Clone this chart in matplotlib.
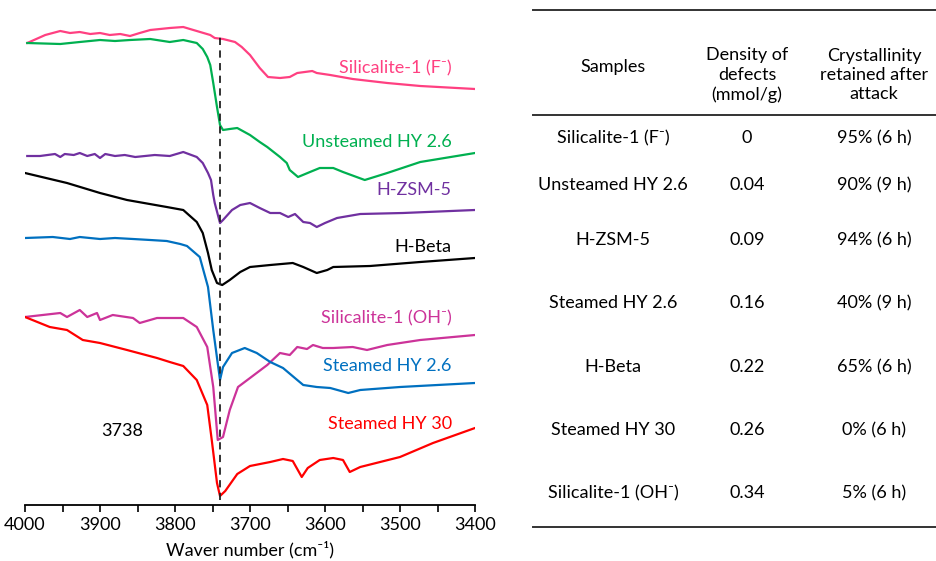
import matplotlib
matplotlib.use('Agg')
import matplotlib.pyplot as plt
import numpy as np

# フォント設定
plt.rcParams['font.family'] = ['Lato', 'DejaVu Sans']
FS = 13

# スペクトル（波数 cm-1, 相対強度 a.u. オフセット込み）
wn_f = [3997, 3973, 3953, 3940, 3927, 3913, 3900, 3887, 3873, 3860, 3847, 3833, 3820, 3807,
        3789, 3771, 3753, 3747, 3736, 3720, 3711, 3700, 3687, 3676, 3660, 3647, 3637, 3617,
        3611, 3593, 3563, 3517, 3473, 3400]
sil_f = [462, 470, 474, 472, 473, 471, 472, 470, 471, 469, 472, 475, 476, 477,
         478, 474, 470, 467, 466, 463, 458, 450, 437, 428, 427, 428, 432, 434,
         432, 430, 426, 422, 419, 416]

wn_uhy = [3997, 3953, 3927, 3900, 3880, 3860, 3833, 3807, 3789, 3771, 3763, 3757, 3753,
          3749, 3744, 3740, 3736, 3727, 3717, 3700, 3687, 3677, 3660, 3651, 3647, 3636,
          3620, 3607, 3589, 3576, 3547, 3517, 3473, 3400]
unsteamed_hy26 = [462, 461, 463, 465, 464, 465, 466, 463, 465, 462, 456, 448, 440,
                  422, 398, 380, 375, 376, 377, 370, 363, 358, 348, 342, 335, 328,
                  333, 337, 337, 333, 325, 332, 343, 352]

wn_zsm = [3997, 3980, 3960, 3953, 3947, 3935, 3927, 3917, 3907, 3900, 3893, 3880, 3867,
          3853, 3840, 3827, 3807, 3789, 3771, 3763, 3756, 3752, 3749, 3747, 3740, 3736,
          3724, 3713, 3700, 3687, 3673, 3660, 3649, 3640, 3629, 3620, 3611, 3600, 3584,
          3553, 3496, 3400]
h_zsm5 = [349, 349, 351, 348, 351, 350, 352, 349, 351, 347, 351, 349, 350,
          348, 349, 350, 349, 353, 348, 342, 332, 325, 310, 302, 282, 285,
          295, 300, 302, 297, 292, 292, 288, 291, 283, 282, 278, 282, 287,
          291, 292, 295]

wn_beta = [4000, 3944, 3900, 3864, 3811, 3789, 3771, 3763, 3756, 3751, 3744, 3737, 3727,
           3713, 3700, 3673, 3643, 3629, 3611, 3597, 3589, 3540, 3473, 3400]
h_beta = [332, 322, 312, 305, 298, 295, 283, 272, 252, 235, 222, 220, 225,
          233, 238, 240, 242, 238, 232, 235, 238, 239, 243, 247]

wn_shy = [4000, 3963, 3940, 3927, 3900, 3880, 3856, 3833, 3811, 3793, 3784, 3767, 3756,
          3749, 3740, 3736, 3724, 3707, 3691, 3673, 3656, 3637, 3629, 3611, 3593, 3569,
          3553, 3500, 3400]
steamed_hy26 = [267, 268, 266, 268, 266, 267, 266, 265, 264, 261, 259, 248, 218,
                175, 125, 138, 152, 157, 152, 143, 137, 125, 120, 118, 117, 112,
                115, 118, 122]

wn_oh = [4000, 3953, 3944, 3927, 3917, 3904, 3900, 3883, 3856, 3847, 3824, 3789, 3771,
         3757, 3749, 3743, 3736, 3727, 3716, 3700, 3677, 3660, 3647, 3637, 3624, 3616,
         3603, 3589, 3563, 3544, 3517, 3473, 3400]
sil_oh = [188, 192, 188, 195, 188, 192, 185, 190, 187, 182, 187, 187, 178,
          158, 118, 65, 68, 95, 118, 127, 140, 152, 150, 158, 156, 160,
          157, 157, 158, 155, 160, 165, 170]

wn_s30 = [4000, 3967, 3944, 3923, 3900, 3864, 3824, 3807, 3789, 3771, 3757, 3751, 3744,
          3740, 3733, 3717, 3700, 3673, 3656, 3643, 3631, 3623, 3607, 3589, 3576, 3567,
          3553, 3500, 3456, 3400]
steamed_hy30 = [188, 178, 175, 165, 162, 155, 147, 143, 139, 125, 100, 65, 22,
                9, 14, 31, 39, 43, 46, 44, 28, 37, 45, 47, 45, 33,
                38, 48, 62, 77]

spectra = [
    (wn_f, sil_f, '#ff4081', 'Silicalite-1 (F⁻)', 437),
    (wn_uhy, unsteamed_hy26, '#00b050', 'Unsteamed HY 2.6', 363),
    (wn_zsm, h_zsm5, '#7030a0', 'H-ZSM-5', 315),
    (wn_beta, h_beta, 'black', 'H-Beta', 258),
    (wn_oh, sil_oh, '#cc3399', 'Silicalite-1 (OH⁻)', 187),
    (wn_shy, steamed_hy26, '#0070c0', 'Steamed HY 2.6', 139),
    (wn_s30, steamed_hy30, '#ff0000', 'Steamed HY 30', 81),
]

# 表データ
samples = ['Silicalite-1 (F⁻)', 'Unsteamed HY 2.6', 'H-ZSM-5', 'Steamed HY 2.6',
           'H-Beta', 'Steamed HY 30', 'Silicalite-1 (OH⁻)']
density = ['0', '0.04', '0.09', '0.16', '0.22', '0.26', '0.34']
crystallinity = ['95% (6 h)', '90% (9 h)', '94% (6 h)', '40% (9 h)',
                 '65% (6 h)', '0% (6 h)', '5% (6 h)']
headers = ['Samples', 'Density of\ndefects\n(mmol/g)', 'Crystallinity\nretained after\nattack']

W, H = 936, 561
fig = plt.figure(figsize=(W / 100, H / 100), dpi=100)

# スペクトル図
ax = fig.add_axes([25 / W, (H - 505) / H, 450 / W, 495 / H])
for wn, y, c, name, ly in spectra:
    ax.plot(wn, y, color=c, lw=1.6)
    ax.text(3431, ly, name, color=c, fontsize=FS, ha='right', va='center')
ax.plot([3740, 3740], [5, 470], color='#222222', lw=1.3, ls=(0, (4, 3)))
ax.text(3870, 74, '3738', fontsize=FS, ha='center', va='center')

ax.set_xlim(4000, 3400)
ax.set_ylim(0, 495)
for s in ['left', 'right', 'top']:
    ax.spines[s].set_visible(False)
ax.spines['bottom'].set_linewidth(1.3)
ax.set_yticks([])
ax.set_xticks(np.arange(3400, 4001, 100))
ax.set_xticks(np.arange(3450, 4000, 100), minor=True)
ax.tick_params(axis='x', which='both', direction='out', length=5, width=1.2,
               labelsize=FS, pad=4)
ax.set_xlabel('Waver number (cm⁻¹)', fontsize=FS, labelpad=5)

# 表（ピクセル座標）
tx = fig.add_axes([0, 0, 1, 1])
tx.set_xlim(0, W)
tx.set_ylim(H, 0)
tx.axis('off')
for yy in [10, 115, 527]:
    tx.plot([533, 936], [yy, yy], color='#333333', lw=1.4)
col_x = [613, 747, 874]
for cx, h in zip(col_x, headers):
    tx.text(cx, 75 if '\n' in h else 67, h, fontsize=FS, ha='center', va='center',
            linespacing=1.25)
row_y = [138, 185, 240, 303, 367, 430, 493]
for ry, s, d, c in zip(row_y, samples, density, crystallinity):
    tx.text(col_x[0], ry, s, fontsize=FS, ha='center', va='center')
    tx.text(col_x[1], ry, d, fontsize=FS, ha='center', va='center')
    tx.text(col_x[2], ry, c, fontsize=FS, ha='center', va='center')

fig.savefig('out.png', dpi=100)
